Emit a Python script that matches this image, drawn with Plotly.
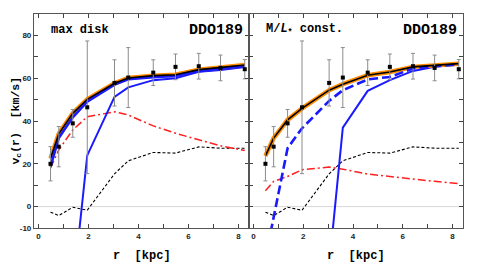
import plotly.graph_objects as go

# radii (kpc)
r = [0.48, 0.81, 1.37, 1.95, 3.04, 3.59, 4.59, 5.48, 6.41, 7.28, 8.25]
# observed rotation curve
v_obs = [20.0, 28.0, 38.9, 46.4, 57.8, 60.3, 62.6, 65.3, 65.6, 64.8, 64.2]
v_err = [8.0, 9.4, 6.5, 31.0, 10.8, 14.0, 6.0, 6.0, 6.0, 6.0, 4.5]
# gas contribution (same in both panels)
v_gas = [-2.6, -4.2, -0.3, -1.7, 15.3, 21.4, 25.3, 25.0, 27.9, 27.3, 27.3]

# max disk model
md_total = [22.5, 34.0, 43.6, 50.1, 57.6, 60.1, 61.2, 61.6, 64.0, 65.0, 66.2]
md_stars = [18.7, 32.0, 41.7, 49.0, 57.0, 59.5, 60.5, 61.0, 63.3, 64.5, 65.6]
md_disk = [18.0, 26.5, 35.8, 42.0, 44.3, 42.8, 37.7, 34.3, 31.2, 28.4, 26.2]
md_halo = [-90.0, -70.0, -40.0, 23.9, 51.3, 55.7, 59.1, 60.0, 63.0, 63.8, 65.2]

# M/L const model
ml_total = [23.7, 32.0, 40.5, 45.9, 54.4, 57.2, 61.4, 62.9, 65.3, 66.0, 66.8]
ml_stars = [-24.0, -5.0, 27.3, 36.6, 49.4, 54.4, 59.4, 60.6, 64.5, 65.6, 66.4]
ml_disk = [7.4, 11.8, 14.1, 17.2, 18.5, 17.5, 15.2, 14.1, 12.6, 11.8, 10.7]
ml_halo = [-150.0, -120.0, -90.0, -60.0, -28.0, 36.9, 54.1, 59.1, 63.4, 65.3, 66.4]

x_ticks = [0, 1, 2, 3, 4, 5, 6, 7, 8]
x_labels = ["0", "", "2", "", "4", "", "6", "", "8"]
y_ticks = [-10, 0, 10, 20, 30, 40, 50, 60, 70, 80, 90]
y_labels = ["-10", "0", "", "20", "", "40", "", "60", "", "80", ""]

MONO = "Liberation Mono"
fig = go.Figure()

panels = [
    ("x", "y", md_total, md_stars, md_disk, md_halo, "solid"),
    ("x2", "y2", ml_total, ml_stars, ml_disk, ml_halo, "dash"),
]
for xa, ya, tot, stars, disk, halo, sdash in panels:
    kw = dict(xaxis=xa, yaxis=ya, showlegend=False, hoverinfo="skip")
    # zero line
    fig.add_trace(go.Scatter(x=[-1, 10], y=[0, 0], mode="lines",
                             line=dict(color="#d8d8d8", width=1), **kw))
    fig.add_trace(go.Scatter(x=r, y=v_gas, mode="lines",
                             line=dict(color="black", width=1.1, dash="3px,2px"), **kw))
    fig.add_trace(go.Scatter(x=r, y=disk, mode="lines",
                             line=dict(color="#ff2020", width=1.5, dash="8px,3px,2px,3px"), **kw))
    fig.add_trace(go.Scatter(x=r, y=halo, mode="lines",
                             line=dict(color="#1a1aff", width=2), **kw))
    fig.add_trace(go.Scatter(x=r, y=tot, mode="lines",
                             line=dict(color="#ff8c00", width=4.5), **kw))
    fig.add_trace(go.Scatter(x=r, y=stars, mode="lines",
                             line=dict(color="#1a1aff", width=2.6,
                                       dash="solid" if sdash == "solid" else "9px,4px"), **kw))
    fig.add_trace(go.Scatter(x=r, y=tot, mode="lines",
                             line=dict(color="black", width=1.6), **kw))
    fig.add_trace(go.Scatter(x=r, y=v_obs, mode="markers",
                             marker=dict(symbol="square", size=4, color="black"),
                             error_y=dict(type="data", array=v_err, color="#8c8c8c",
                                          thickness=1, width=2), **kw))

axis_common = dict(range=[-0.18, 8.42], tickvals=x_ticks, ticktext=x_labels,
                   ticks="inside", ticklen=4, tickcolor="#444", mirror="allticks",
                   showline=True, linecolor="#555", linewidth=1.2, showgrid=False,
                   zeroline=False,
                   tickfont=dict(family="Liberation Sans", size=8, color="#222", weight="bold"))
yaxis_common = dict(range=[-10, 90], tickvals=y_ticks, ticks="inside", ticklen=4,
                    tickcolor="#444", mirror="allticks", showline=True, linecolor="#555",
                    linewidth=1.2, showgrid=False, zeroline=False,
                    tickfont=dict(family="Liberation Sans", size=8, color="#222", weight="bold"))

# page body has an 8px default margin, so margins are offset to compensate
fig.update_layout(
    width=480, height=276,
    margin=dict(l=26, r=25, t=6, b=56),
    plot_bgcolor="white", paper_bgcolor="white",
    xaxis=dict(domain=[0, 0.5012], anchor="y", **axis_common),
    xaxis2=dict(domain=[0.5012, 1], anchor="y2", **axis_common),
    yaxis=dict(domain=[0, 1], anchor="x", ticktext=y_labels, **yaxis_common),
    yaxis2=dict(domain=[0, 1], anchor="x2", ticktext=[""] * len(y_ticks), **yaxis_common),
)

base = dict(showarrow=False)
ann = [
    dict(text="<b>max disk</b>", xref="x domain", yref="y domain", x=0.07, y=0.925,
         xanchor="left", yanchor="middle", font=dict(family=MONO, size=12, color="black"), **base),
    dict(text="<b>DDO189</b>", xref="x domain", yref="y domain", x=0.98, y=0.925,
         xanchor="right", yanchor="middle", font=dict(family=MONO, size=15, color="black"), **base),
    dict(text="<b>M/<i>L</i><sub>*</sub> const.</b>", xref="x2 domain", yref="y2 domain",
         x=0.07, y=0.925, xanchor="left", yanchor="middle",
         font=dict(family=MONO, size=12, color="black"), **base),
    dict(text="<b>DDO189</b>", xref="x2 domain", yref="y2 domain", x=0.98, y=0.925,
         xanchor="right", yanchor="middle", font=dict(family=MONO, size=15, color="black"), **base),
    dict(text="<b>r  [kpc]</b>", xref="x domain", yref="paper", x=0.5, y=-0.09,
         xanchor="center", yanchor="top", font=dict(family=MONO, size=12, color="black"), **base),
    dict(text="<b>r  [kpc]</b>", xref="x2 domain", yref="paper", x=0.5, y=-0.09,
         xanchor="center", yanchor="top", font=dict(family=MONO, size=12, color="black"), **base),
    dict(text="<b>v<sub>c</sub>(r)  [km/s]</b>",
         xref="paper", yref="paper", x=-0.043, y=0.5,
         xanchor="center", yanchor="middle", textangle=-90,
         font=dict(family=MONO, size=11.5, color="black"), **base),
]
fig.update_layout(annotations=ann)

fig.write_html("out.html")
